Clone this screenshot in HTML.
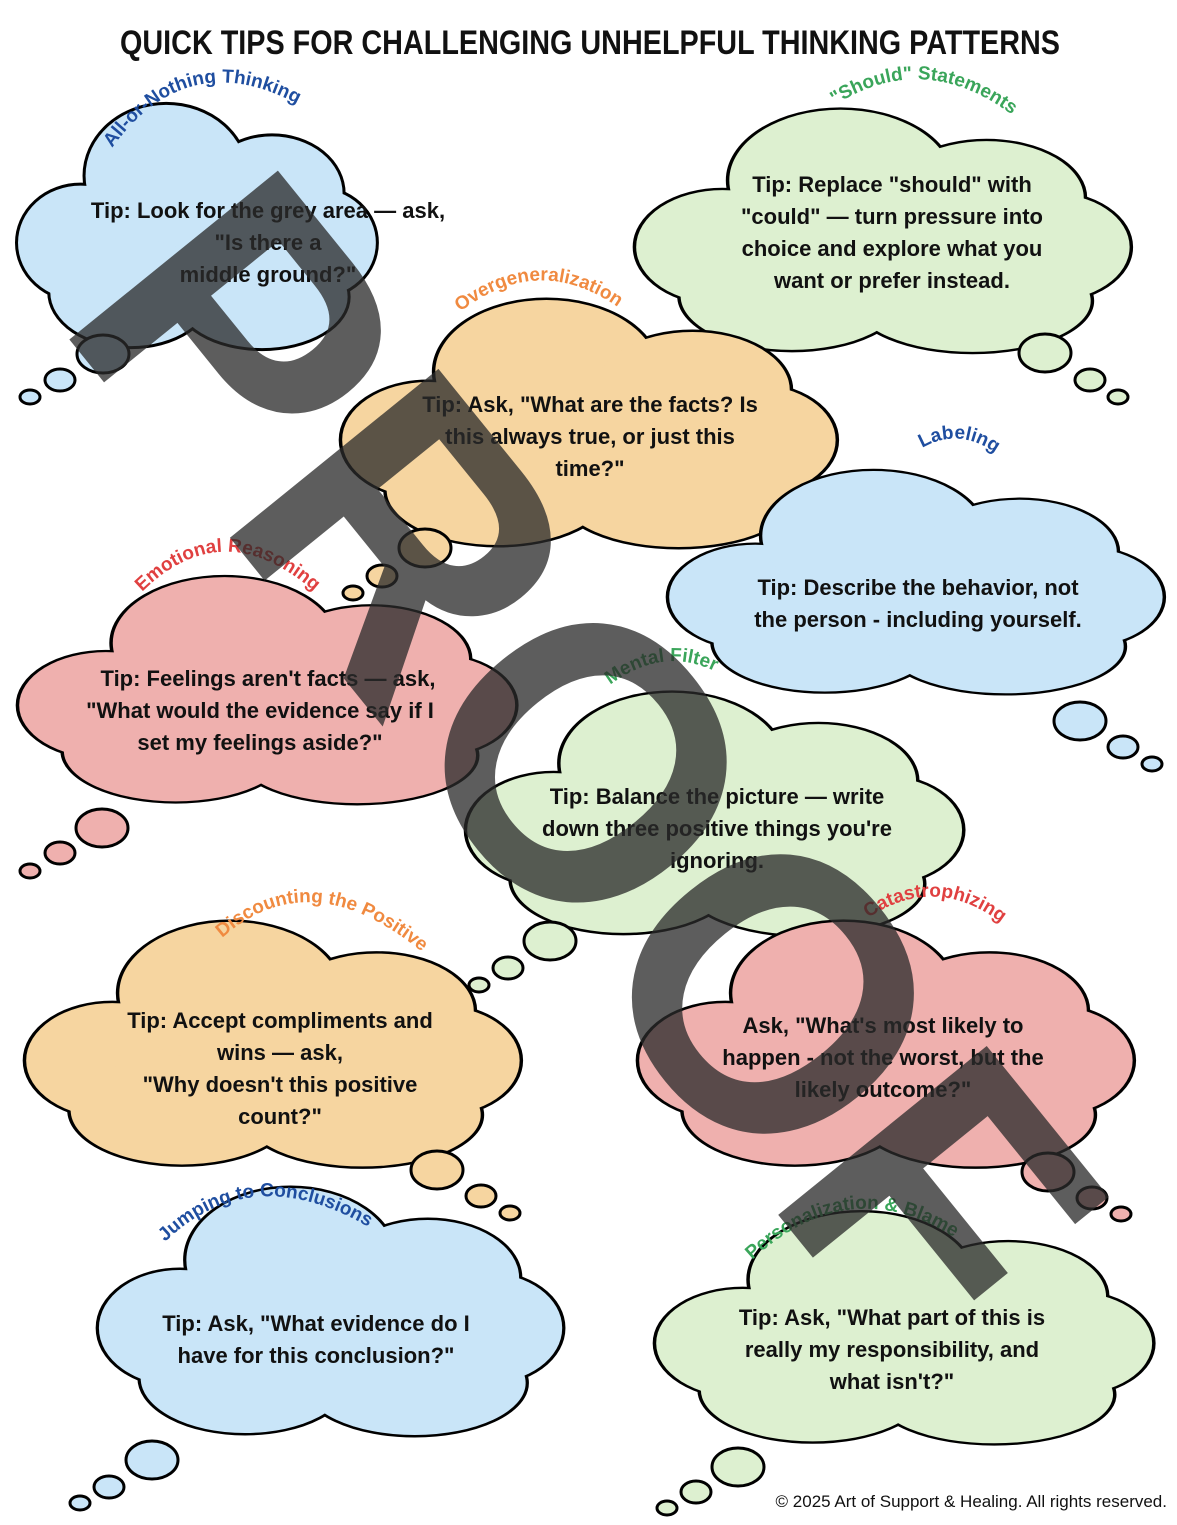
<!DOCTYPE html>
<html><head><meta charset="utf-8"><style>
html,body{margin:0;padding:0;background:#fff;}
svg{display:block;}
.tip{font-family:"Liberation Sans",sans-serif;font-weight:bold;font-size:22px;fill:#111;text-anchor:middle;}
.ttl{font-family:"Liberation Sans",sans-serif;font-weight:bold;font-size:19px;}
</style></head><body>
<svg width="1177" height="1525" viewBox="0 0 1177 1525" xmlns="http://www.w3.org/2000/svg">
<defs>
<g id="cl">
<ellipse cx="180" cy="150" rx="150" ry="80"/>
<ellipse cx="65" cy="150" rx="62" ry="58"/>
<ellipse cx="150" cy="82" rx="80" ry="72"/>
<ellipse cx="255" cy="100" rx="70" ry="58"/>
<ellipse cx="300" cy="150" rx="58" ry="55"/>
<ellipse cx="115" cy="200" rx="80" ry="55"/>
<ellipse cx="245" cy="205" rx="85" ry="52"/>
</g>
</defs>
<rect width="1177" height="1525" fill="#fff"/>
<text x="590" y="54" textLength="940" lengthAdjust="spacingAndGlyphs" font-family="Liberation Sans, sans-serif" font-weight="bold" font-size="34" fill="#111" text-anchor="middle">QUICK TIPS FOR CHALLENGING UNHELPFUL THINKING PATTERNS</text>

<g>
<g transform="translate(15,95) scale(1.008,0.985)"><use href="#cl" fill="#c9e5f8" stroke="#000" stroke-width="6"/><use href="#cl" fill="#c9e5f8"/></g>
<g fill="#c9e5f8" stroke="#000" stroke-width="3"><ellipse cx="103" cy="354" rx="26" ry="19"/><ellipse cx="60" cy="380" rx="15" ry="11"/><ellipse cx="30" cy="397" rx="10" ry="7"/></g>
<g transform="translate(632,100) scale(1.39,0.98)"><use href="#cl" fill="#ddf0d0" stroke="#000" stroke-width="5"/><use href="#cl" fill="#ddf0d0"/></g>
<g fill="#ddf0d0" stroke="#000" stroke-width="3"><ellipse cx="1045" cy="353" rx="26" ry="19"/><ellipse cx="1090" cy="380" rx="15" ry="11"/><ellipse cx="1118" cy="397" rx="10" ry="7"/></g>
<g transform="translate(338,290) scale(1.39,1.0)"><use href="#cl" fill="#f6d5a0" stroke="#000" stroke-width="5"/><use href="#cl" fill="#f6d5a0"/></g>
<g fill="#f6d5a0" stroke="#000" stroke-width="3"><ellipse cx="425" cy="548" rx="26" ry="19"/><ellipse cx="382" cy="576" rx="15" ry="11"/><ellipse cx="353" cy="593" rx="10" ry="7"/></g>
<g transform="translate(665,462) scale(1.39,0.9)"><use href="#cl" fill="#c9e5f8" stroke="#000" stroke-width="5"/><use href="#cl" fill="#c9e5f8"/></g>
<g fill="#c9e5f8" stroke="#000" stroke-width="3"><ellipse cx="1080" cy="721" rx="26" ry="19"/><ellipse cx="1123" cy="747" rx="15" ry="11"/><ellipse cx="1152" cy="764" rx="10" ry="7"/></g>
<g transform="translate(15,568) scale(1.397,0.915)"><use href="#cl" fill="#efb0ae" stroke="#000" stroke-width="5"/><use href="#cl" fill="#efb0ae"/></g>
<g fill="#efb0ae" stroke="#000" stroke-width="3"><ellipse cx="102" cy="828" rx="26" ry="19"/><ellipse cx="60" cy="853" rx="15" ry="11"/><ellipse cx="30" cy="871" rx="10" ry="7"/></g>
<g transform="translate(463,683) scale(1.394,0.98)"><use href="#cl" fill="#ddf0d0" stroke="#000" stroke-width="5"/><use href="#cl" fill="#ddf0d0"/></g>
<g fill="#ddf0d0" stroke="#000" stroke-width="3"><ellipse cx="550" cy="941" rx="26" ry="19"/><ellipse cx="508" cy="968" rx="15" ry="11"/><ellipse cx="479" cy="985" rx="10" ry="7"/></g>
<g transform="translate(22,912) scale(1.39,0.99)"><use href="#cl" fill="#f6d5a0" stroke="#000" stroke-width="5"/><use href="#cl" fill="#f6d5a0"/></g>
<g fill="#f6d5a0" stroke="#000" stroke-width="3"><ellipse cx="437" cy="1170" rx="26" ry="19"/><ellipse cx="481" cy="1196" rx="15" ry="11"/><ellipse cx="510" cy="1213" rx="10" ry="7"/></g>
<g transform="translate(635,912) scale(1.39,0.99)"><use href="#cl" fill="#efb0ae" stroke="#000" stroke-width="5"/><use href="#cl" fill="#efb0ae"/></g>
<g fill="#efb0ae" stroke="#000" stroke-width="3"><ellipse cx="1048" cy="1172" rx="26" ry="19"/><ellipse cx="1092" cy="1198" rx="15" ry="11"/><ellipse cx="1121" cy="1214" rx="10" ry="7"/></g>
<g transform="translate(95,1178) scale(1.305,1.0)"><use href="#cl" fill="#c9e5f8" stroke="#000" stroke-width="5"/><use href="#cl" fill="#c9e5f8"/></g>
<g fill="#c9e5f8" stroke="#000" stroke-width="3"><ellipse cx="152" cy="1460" rx="26" ry="19"/><ellipse cx="109" cy="1487" rx="15" ry="11"/><ellipse cx="80" cy="1503" rx="10" ry="7"/></g>
<g transform="translate(652,1203) scale(1.397,0.935)"><use href="#cl" fill="#ddf0d0" stroke="#000" stroke-width="5"/><use href="#cl" fill="#ddf0d0"/></g>
<g fill="#ddf0d0" stroke="#000" stroke-width="3"><ellipse cx="738" cy="1467" rx="26" ry="19"/><ellipse cx="696" cy="1492" rx="15" ry="11"/><ellipse cx="667" cy="1508" rx="10" ry="7"/></g>
</g>

<path id="p1" d="M112,148 Q190,40 308,110" fill="none"/>
<path id="p2" d="M835,105 Q930,45 1025,125" fill="none"/>
<path id="p3" d="M460,312 Q540,250 622,310" fill="none"/>
<path id="p4" d="M922,448 Q962,425 1002,458" fill="none"/>
<path id="p5" d="M142,592 Q225,510 318,595" fill="none"/>
<path id="p6" d="M610,685 Q670,640 730,680" fill="none"/>
<path id="p7" d="M222,938 Q310,860 422,952" fill="none"/>
<path id="p8" d="M868,918 Q940,870 1010,930" fill="none"/>
<path id="p9" d="M165,1242 Q250,1160 365,1225" fill="none"/>
<path id="p10" d="M752,1260 Q850,1170 955,1238" fill="none"/>
<text class="ttl" fill="#1f4ea0"><textPath href="#p1">All-or-Nothing Thinking</textPath></text>
<text class="ttl" fill="#3aa55a"><textPath href="#p2">"Should" Statements</textPath></text>
<text class="ttl" fill="#f08a40"><textPath href="#p3">Overgeneralization</textPath></text>
<text class="ttl" fill="#1f4ea0"><textPath href="#p4">Labeling</textPath></text>
<text class="ttl" fill="#e04040"><textPath href="#p5">Emotional Reasoning</textPath></text>
<text class="ttl" fill="#3aa55a"><textPath href="#p6">Mental Filter</textPath></text>
<text class="ttl" fill="#f08a40"><textPath href="#p7">Discounting the Positive</textPath></text>
<text class="ttl" fill="#e04040"><textPath href="#p8">Catastrophizing</textPath></text>
<text class="ttl" fill="#1f4ea0"><textPath href="#p9">Jumping to Conclusions</textPath></text>
<text class="ttl" fill="#3aa55a"><textPath href="#p10">Personalization &amp; Blame</textPath></text>

<text class="tip" x="268" y="218">Tip: Look for the grey area — ask,</text>
<text class="tip" x="268" y="250">"Is there a</text>
<text class="tip" x="268" y="282">middle ground?"</text>

<text class="tip" x="892" y="192">Tip: Replace "should" with</text>
<text class="tip" x="892" y="224">"could" — turn pressure into</text>
<text class="tip" x="892" y="256">choice and explore what you</text>
<text class="tip" x="892" y="288">want or prefer instead.</text>

<text class="tip" x="590" y="412">Tip: Ask, "What are the facts? Is</text>
<text class="tip" x="590" y="444">this always true, or just this</text>
<text class="tip" x="590" y="476">time?"</text>

<text class="tip" x="918" y="595">Tip: Describe the behavior, not</text>
<text class="tip" x="918" y="627">the person - including yourself.</text>

<text class="tip" x="268" y="686">Tip: Feelings aren't facts — ask,</text>
<text class="tip" x="260" y="718">"What would the evidence say if I</text>
<text class="tip" x="260" y="750">set my feelings aside?"</text>

<text class="tip" x="717" y="804">Tip: Balance the picture — write</text>
<text class="tip" x="717" y="836">down three positive things you're</text>
<text class="tip" x="717" y="868">ignoring.</text>

<text class="tip" x="280" y="1028">Tip: Accept compliments and</text>
<text class="tip" x="280" y="1060">wins — ask,</text>
<text class="tip" x="280" y="1092">"Why doesn't this positive</text>
<text class="tip" x="280" y="1124">count?"</text>

<text class="tip" x="883" y="1033">Ask, "What's most likely to</text>
<text class="tip" x="883" y="1065">happen - not the worst, but the</text>
<text class="tip" x="883" y="1097">likely outcome?"</text>

<text class="tip" x="316" y="1331">Tip: Ask, "What evidence do I</text>
<text class="tip" x="316" y="1363">have for this conclusion?"</text>

<text class="tip" x="892" y="1325">Tip: Ask, "What part of this is</text>
<text class="tip" x="892" y="1357">really my responsibility, and</text>
<text class="tip" x="892" y="1389">what isn't?"</text>

<text x="1167" y="1507" text-anchor="end" font-family="Liberation Sans, sans-serif" font-size="17" fill="#111">© 2025 Art of Support &amp; Healing. All rights reserved.</text>

<g transform="translate(590,760) rotate(51)">
<text x="0" y="140" text-anchor="middle" textLength="1360" lengthAdjust="spacingAndGlyphs" font-family="Liberation Sans, sans-serif" font-weight="bold" font-size="390" fill="#2a2a2a" fill-opacity="0.76">PROOF</text>
</g>
</svg>
</body></html>
